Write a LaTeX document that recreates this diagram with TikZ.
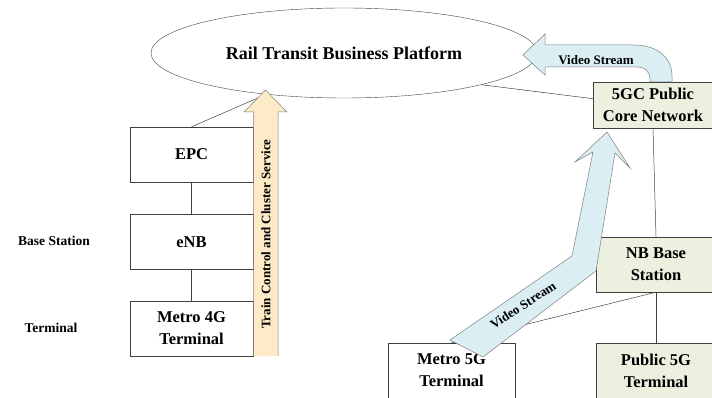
\documentclass[tikz,border=0pt]{standalone}
\usepackage{fontspec}
\setmainfont{Liberation Serif}
\usetikzlibrary{shapes.geometric}
\definecolor{boxgreen}{HTML}{EBF1DE}
\definecolor{streamblue}{HTML}{DAEEF3}
\definecolor{ctrlyellow}{HTML}{FDEBC8}
\definecolor{linegray}{HTML}{404040}
\tikzset{
  unit/.style={draw=linegray, minimum width=123pt, minimum height=55pt,
    align=center, font=\fontsize{16.5}{22}\selectfont\bfseries},
  pubunit/.style={unit, fill=boxgreen, minimum width=120pt},
  layer/.style={font=\fontsize{13.5}{15}\selectfont\bfseries},
  streamtext/.style={font=\fontsize{13}{15}\selectfont\bfseries},
  link/.style={draw=linegray, line width=0.5pt},
  fat/.style={draw=gray, line width=0.5pt}
}
\begin{document}
\begin{tikzpicture}[x=1pt, y=-1pt]
  \useasboundingbox (0,0) rectangle (712,398);
  % platform
  \node[ellipse, draw=linegray, minimum width=386pt, minimum height=90pt,
    font=\fontsize{18}{20}\selectfont\bfseries] (platform) at (344,53) {Rail Transit Business Platform};
  % 4G side
  \node[unit] (epc) at (191.5,154.5) {EPC};
  \node[unit] (enb) at (191.5,242) {eNB};
  \node[unit] (m4g) at (191.5,328.5) {Metro 4G\\Terminal};
  \node[layer] (bslabel) at (54,241) {Base Station};
  \node[layer] (termlabel) at (51,328) {Terminal};
  % 5G side
  \node[pubunit, minimum height=46pt] (core) at (653,105) {5GC Public\\Core Network};
  \node[pubunit] (nb) at (656,264.5) {NB Base\\Station};
  \node[pubunit] (pub) at (656,370.5) {Public 5G\\Terminal};
  \node[unit, minimum width=127pt] (m5g) at (451.5,370.5) {Metro 5G\\Terminal};
  % links
  \draw[link] (epc.north) -- (platform.208);
  \draw[link] (epc) -- (enb);
  \draw[link] (enb) -- (m4g);
  \draw[link] (platform.-13) -- (core.174);
  \draw[link] (core.south) -- (nb.north);
  \draw[link] (nb.south) -- (pub.north);
  \draw[link] (nb.south) -- (m5g.north);
  % train control arrow
  \draw[fat, fill=ctrlyellow] (253.5,356) -- (253.5,112) -- (244,112) -- (265.5,90)
    -- (287,112) -- (278,112) -- (278,356);
  \node[streamtext, rotate=90] (ctrl) at (266,234) {Train Control and Cluster Service};
  % video stream to platform
  \draw[fat, fill=streamblue] (650,82) -- (650,80) .. controls (650,71) and (645,67) .. (636,67)
    -- (545,67) -- (545,75) -- (523,55) -- (545,34) -- (545,45) -- (634,45)
    .. controls (658,45) and (672,58) .. (672,76) -- (672,82) -- cycle;
  \node[streamtext] (vs1) at (596,60) {Video Stream};
  % video stream from metro 5G
  \draw[fat, fill=streamblue] (450,340) -- (572,256) -- (593,152) -- (575,162) -- (607,132)
    -- (630,168) -- (615,153) -- (596,271) -- (483,357) -- cycle;
  \node[streamtext, rotate=33] (vs2) at (523,305) {Video Stream};
\end{tikzpicture}
\end{document}
